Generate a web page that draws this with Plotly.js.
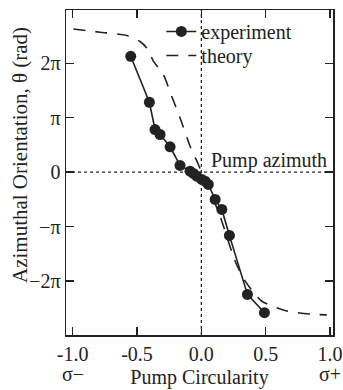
<!DOCTYPE html>
<html>
<head>
<meta charset="utf-8">
<script src="https://cdn.plot.ly/plotly-3.0.1.min.js"></script>
<style>html,body{margin:0;padding:0;background:#fff;}#chart{width:343px;height:390px;}</style>
</head>
<body>
<div id="chart"></div>
<script>
var PI = Math.PI;
// experiment: x = pump circularity, y in units of pi
var expX = [-0.549, -0.404, -0.360, -0.321, -0.243, -0.166, -0.088, -0.062, -0.036, 0.003, 0.029, 0.054, 0.107, 0.159, 0.218, 0.358, 0.490];
var expYpi = [2.128, 1.284, 0.783, 0.692, 0.466, 0.123, 0.018, -0.024, -0.073, -0.134, -0.165, -0.226, -0.500, -0.684, -1.162, -2.244, -2.580];
// theory
var thX = [-0.995, -0.788, -0.580, -0.477, -0.425, -0.373, -0.295, -0.230, -0.166, -0.088, -0.023, 0.0, 0.04, 0.09, 0.146, 0.262, 0.340, 0.470, 0.664, 0.871, 0.975];
var thYpi = [2.63, 2.57, 2.51, 2.40, 2.28, 2.04, 1.79, 1.39, 1.00, 0.48, 0.14, 0.0, -0.20, -0.48, -0.81, -1.63, -2.00, -2.37, -2.55, -2.61, -2.62];
var xTickVals = [-1.0, -0.5, 0.0, 0.5, 1.0];
var xTickText = ["-1.0", "-0.5", "0.0", "0.5", "1.0"];
var yTickPi = [-2, -1, 0, 1, 2];
var yTickText = ["\u22122\u03c0", "\u2212\u03c0", "0", "\u03c0", "2\u03c0"];

var font = 'Liberation Serif, Times New Roman, serif';
var ink = '#222';

var traces = [
  {x: expX, y: expYpi.map(function(v){return v*PI;}), name: 'experiment', mode: 'lines+markers',
   line: {color: ink, width: 1.6}, marker: {color: ink, size: 11}, legend: 'legend'},
  {x: thX, y: thYpi.map(function(v){return v*PI;}), name: 'theory', mode: 'lines',
   line: {color: ink, width: 1.6, dash: '12px,10px', shape: 'spline', smoothing: 0.6}, legend: 'legend2'}
];

var axisCommon = {showgrid: false, zeroline: false, showline: true, linecolor: ink, linewidth: 1.5,
  mirror: 'ticks', ticks: 'inside', ticklen: 8, tickwidth: 1.5, tickcolor: ink,
  tickfont: {family: font, size: 20, color: ink}};

var legendCommon = {xanchor: 'left', yanchor: 'top', bgcolor: 'rgba(0,0,0,0)',
  font: {family: font, size: 20, color: ink}};

var layout = {
  width: 343, height: 390,
  margin: {l: 66, r: 10, t: 10, b: 55},
  paper_bgcolor: '#fff', plot_bgcolor: '#fff',
  font: {family: font, size: 20, color: ink},
  showlegend: true,
  legend: Object.assign({}, legendCommon, {x: 0.357, y: 0.994}),
  legend2: Object.assign({}, legendCommon, {x: 0.357, y: 0.92}),
  xaxis: Object.assign({}, axisCommon, {range: [-1.052, 1.023], tickvals: xTickVals, ticktext: xTickText,
    title: {text: 'Pump Circularity', font: {family: font, size: 20, color: ink}, standoff: 6}}),
  yaxis: Object.assign({}, axisCommon, {range: [-2.99*PI, 2.978*PI], tickvals: yTickPi.map(function(v){return v*PI;}), ticktext: yTickText}),
  shapes: [
    {type: 'line', xref: 'x', yref: 'paper', x0: 0, x1: 0, y0: 0, y1: 1, line: {color: ink, width: 1.3, dash: 'dot'}},
    {type: 'line', xref: 'paper', yref: 'y', x0: 0, x1: 1, y0: 0, y1: 0, line: {color: ink, width: 1.3, dash: 'dot'}}
  ],
  annotations: [
    {text: 'Azimuthal Orientation, \u03b8 (rad)', xref: 'paper', yref: 'paper', x: -0.172, y: 0.554, xanchor: 'center', yanchor: 'middle', textangle: -90, showarrow: false, font: {family: font, size: 21, color: ink}},
    {text: 'Pump azimuth', xref: 'x', yref: 'y', x: 0, y: 0, xanchor: 'left', yanchor: 'bottom', xshift: 8, yshift: -2, showarrow: false, font: {family: font, size: 20, color: ink}},
    {text: '\u03c3\u2212', xref: 'x', yref: 'paper', x: -1.0, y: -0.12, xanchor: 'center', yanchor: 'middle', showarrow: false, font: {family: font, size: 20, color: ink}},
    {text: '\u03c3+', xref: 'x', yref: 'paper', x: 1.0, y: -0.12, xanchor: 'center', yanchor: 'middle', showarrow: false, font: {family: font, size: 20, color: ink}}
  ]
};

Plotly.newPlot('chart', traces, layout, {displayModeBar: false, staticPlot: true});
</script>
</body>
</html>
